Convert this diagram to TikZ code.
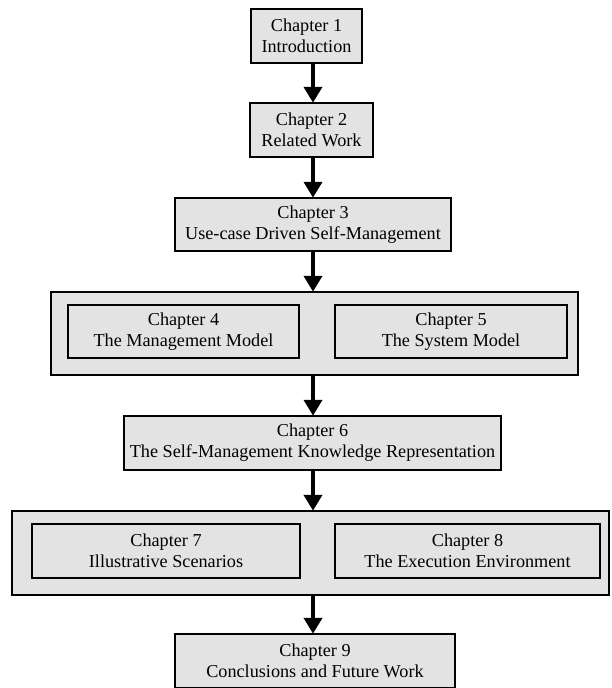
\documentclass[tikz,border=0pt]{standalone}
\usepackage{fontspec}
\setmainfont{Liberation Serif}
\newfontfamily\chapfont{Liberation Serif}
\usetikzlibrary{arrows.meta}
\definecolor{boxgray}{HTML}{E3E3E3}
\tikzset{
  chapbox/.style={draw=black, line width=2.5pt, fill=boxgray, align=center,
    inner sep=0pt, font=\chapfont\fontsize{18.2}{21}\selectfont},
  groupbox/.style={draw=black, line width=2.5pt, fill=boxgray, inner sep=0pt},
  flow/.style={line width=4pt, -{Triangle[width=18pt,length=16pt]}, shorten >=-1pt},
}
\begin{document}
\begin{tikzpicture}[x=1pt, y=-1pt]
\useasboundingbox (0,0) rectangle (611,688);
% spine of the reading order
\coordinate (col) at (313,0);

\node[chapbox, minimum width=111pt, minimum height=54pt] (b1) at (306.5,36) {Chapter 1\\Introduction};
\node[chapbox, minimum width=123pt, minimum height=54pt] (b2) at (311.5,130) {Chapter 2\\Related Work};
\node[chapbox, minimum width=276pt, minimum height=53pt] (b3) at (313,224.5) {Chapter 3\\Use-case Driven Self-Management};

\node[groupbox, minimum width=527pt, minimum height=83pt] (g1) at (314.5,333.5) {};
\node[chapbox, minimum width=231pt, minimum height=53pt] (b4) at (183.5,331.5) {Chapter 4\\The Management Model};
\node[chapbox, minimum width=232pt, minimum height=53pt] (b5) at (451,331.5) {Chapter 5\\The System Model};

\node[chapbox, minimum width=377pt, minimum height=54pt] (b6) at (312.5,443) {Chapter 6\\The Self-Management Knowledge Representation};

\node[groupbox, minimum width=597pt, minimum height=84pt] (g2) at (310.5,553) {};
\node[chapbox, minimum width=268pt, minimum height=54pt] (b7) at (166,551) {Chapter 7\\Illustrative Scenarios};
\node[chapbox, minimum width=265pt, minimum height=54pt] (b8) at (467.5,551) {Chapter 8\\The Execution Environment};

\node[chapbox, minimum width=280pt, minimum height=54pt] (b9) at (315,661) {Chapter 9\\Conclusions and Future Work};

\draw[flow] (b1.south -| col) -- (b2.north -| col);
\draw[flow] (b2.south -| col) -- (b3.north -| col);
\draw[flow] (b3.south -| col) -- (g1.north -| col);
\draw[flow] (g1.south -| col) -- (b6.north -| col);
\draw[flow] (b6.south -| col) -- (g2.north -| col);
\draw[flow] (g2.south -| col) -- (b9.north -| col);
\end{tikzpicture}
\end{document}
